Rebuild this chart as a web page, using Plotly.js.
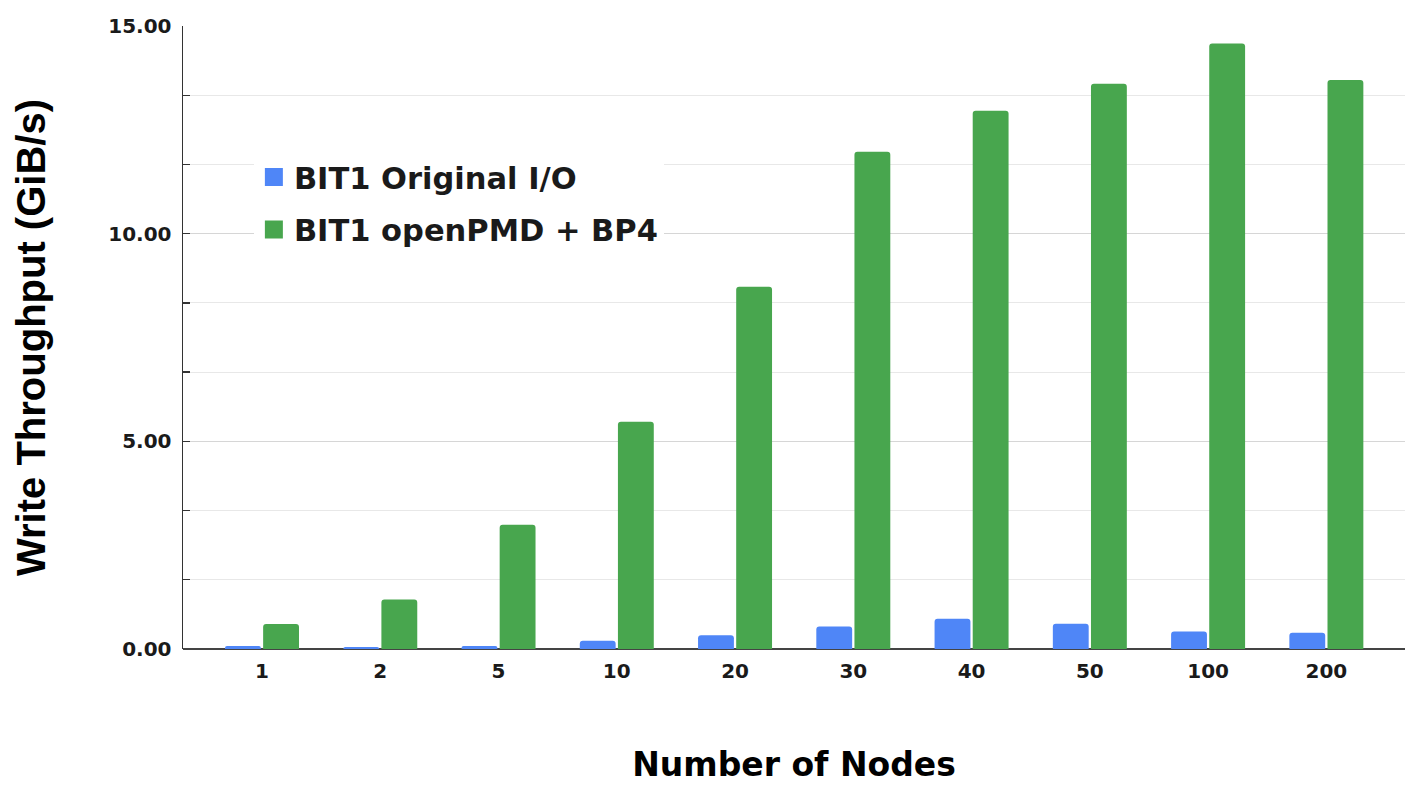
<!DOCTYPE html>
<html>
<head>
<meta charset="utf-8">
<script src="https://cdn.plot.ly/plotly-3.0.1.min.js"></script>
<style>
  html, body { margin: 0; padding: 0; background: #ffffff; }
  #chart { width: 1427px; height: 790px; }
</style>
</head>
<body>
<div id="chart"></div>
<script>
// ---- data ----
const nodes = ["1", "2", "5", "10", "20", "30", "40", "50", "100", "200"];
const originalIO = [0.07, 0.05, 0.07, 0.20, 0.33, 0.54, 0.73, 0.61, 0.42, 0.39];
const openPMD_BP4 = [0.60, 1.19, 2.99, 5.47, 8.72, 11.97, 12.96, 13.61, 14.58, 13.70];
const seriesNames = ["BIT1 Original I/O", "BIT1 openPMD + BP4"];
const yTickVals = [0, 5, 10, 15];
const yTickText = ["0.00", "5.00", "10.00", "15.00"];

const fontMain = "DejaVu Sans, Liberation Sans, Arial, sans-serif";

const traces = [
  {
    type: "bar",
    name: seriesNames[0],
    x: nodes,
    y: originalIO,
    marker: { color: "#4f86f7", line: { width: 0 } },
    legendgroup: "a",
    hoverinfo: "x+y+name"
  },
  {
    type: "bar",
    name: seriesNames[1],
    x: nodes,
    y: openPMD_BP4,
    marker: { color: "#48a64e", line: { width: 0 } },
    legendgroup: "b",
    hoverinfo: "x+y+name"
  }
];

const layout = {
  width: 1427,
  height: 790,
  paper_bgcolor: "#ffffff",
  plot_bgcolor: "#ffffff",
  margin: { l: 183, r: 22, t: 26, b: 141, pad: 0 },
  barmode: "group",
  bargap: 0.355,
  bargroupgap: 0.06,
  barcornerradius: 3,
  font: { family: fontMain, color: "#1a1a1a" },
  showlegend: true,
  legend: {
    x: 0.058,
    xanchor: "left",
    y: 0.80,
    yanchor: "top",
    bgcolor: "#ffffff",
    borderwidth: 0,
    traceorder: "grouped",
    tracegroupgap: 10,
    font: { family: fontMain, size: 30.5, color: "#1a1a1a", weight: "bold" }
  },
  xaxis: {
    type: "category",
    range: [-0.668, 9.665],
    showgrid: false,
    zeroline: false,
    showline: false,
    ticks: "",
    tickfont: { family: fontMain, size: 20, color: "#1a1a1a", weight: "bold" },
    ticklabelstandoff: 8,
    title: {
      text: "Number of Nodes",
      font: { family: fontMain, size: 33, color: "#000000", weight: "bold" },
      standoff: 70
    },
    fixedrange: true
  },
  yaxis: {
    range: [0, 15],
    tickmode: "array",
    tickvals: yTickVals,
    ticktext: yTickText,
    ticks: "inside",
    ticklen: 7,
    tickwidth: 1.3,
    tickcolor: "#333333",
    showline: true,
    linecolor: "#333333",
    linewidth: 1.5,
    showgrid: true,
    gridcolor: "#d6d6d6",
    gridwidth: 1.2,
    zeroline: true,
    zerolinecolor: "#444444",
    zerolinewidth: 1.5,
    minor: {
      dtick: 5 / 3,
      tick0: 0,
      ticks: "inside",
      ticklen: 7,
      tickcolor: "#333333",
      showgrid: true,
      gridcolor: "#e8e8e8",
      gridwidth: 1
    },
    tickfont: { family: fontMain, size: 20, color: "#1a1a1a", weight: "bold" },
    ticklabelstandoff: 6,
    title: {
      text: "Write Throughput (GiB/s)",
      font: { family: "Liberation Sans, Arial, sans-serif", size: 40, color: "#000000", weight: "bold" },
      standoff: 50
    },
    fixedrange: true
  }
};

Plotly.newPlot("chart", traces, layout, { displayModeBar: false, staticPlot: true }).then(function () {
  // enlarge the legend colour squares (keep Plotly's own positioning transform)
  document.querySelectorAll(".legend .legendpoints path").forEach(function (p) {
    p.setAttribute("d", "M9,9H-9V-9H9Z");
  });
});
</script>
</body>
</html>
